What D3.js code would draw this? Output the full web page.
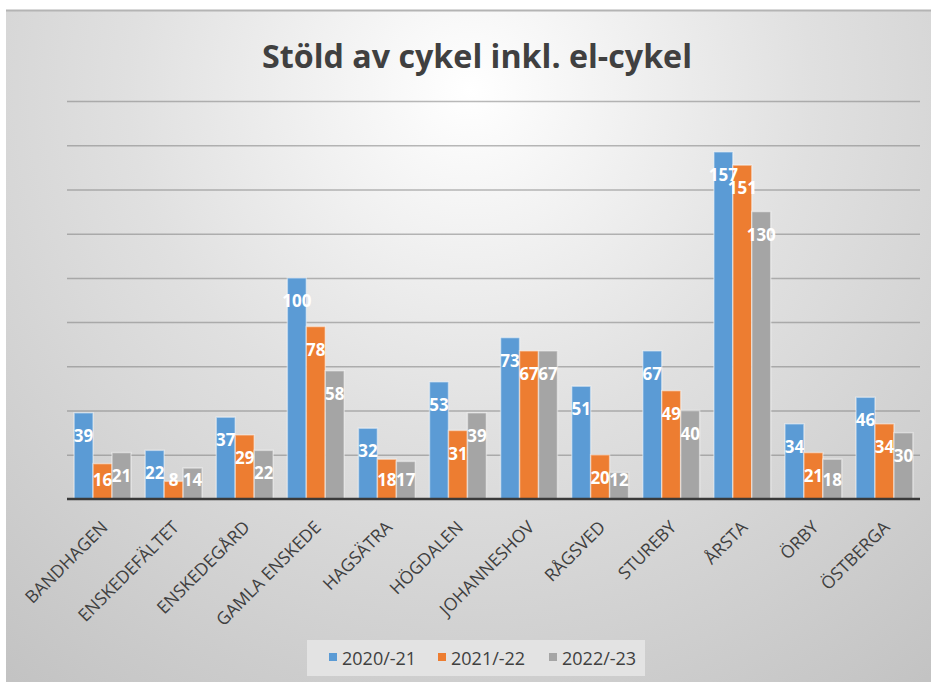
<!DOCTYPE html>
<html lang="sv">
<head>
<meta charset="utf-8">
<title>Stöld av cykel inkl. el-cykel</title>
<script src="https://cdn.jsdelivr.net/npm/d3@7"></script>
<style>
  body { margin: 0; background: #fff; }
  svg text { font-family: "Open Sans", "DejaVu Sans", sans-serif; }
</style>
</head>
<body>
<script>
// data
var categories = ["BANDHAGEN", "ENSKEDEFÄLTET", "ENSKEDEGÅRD", "GAMLA ENSKEDE", "HAGSÄTRA",
                  "HÖGDALEN", "JOHANNESHOV", "RÅGSVED", "STUREBY", "ÅRSTA", "ÖRBY", "ÖSTBERGA"];
var seriesNames = ["2020/-21", "2021/-22", "2022/-23"];
var values2020 = [39, 22, 37, 100, 32, 53, 73, 51, 67, 157, 34, 46];
var values2021 = [16, 8, 29, 78, 18, 31, 67, 20, 49, 151, 21, 34];
var values2022 = [21, 14, 22, 58, 17, 39, 67, 12, 40, 130, 18, 30];
var yTicks = [0, 20, 40, 60, 80, 100, 120, 140, 160, 180];
var colors = ["#5b9bd5", "#ed7d31", "#a5a5a5"];

var w = 931, h = 682;
var margin = {top: 101, right: 11, bottom: 183, left: 67};
var seriesValues = [values2020, values2021, values2022];

var svg = d3.select("body").append("svg")
    .attr("width", w)
    .attr("height", h);

// background gradient
var defs = svg.append("defs");
var grad = defs.append("radialGradient")
    .attr("id", "bg")
    .attr("gradientUnits", "userSpaceOnUse")
    .attr("cx", 470).attr("cy", 90).attr("r", 760);
grad.append("stop").attr("offset", "0%").attr("stop-color", "#ffffff");
grad.append("stop").attr("offset", "45%").attr("stop-color", "#e0e0e0");
grad.append("stop").attr("offset", "100%").attr("stop-color", "#c2c2c2");

svg.append("rect")
    .attr("x", 6).attr("y", 10)
    .attr("width", w - 6).attr("height", h - 10)
    .attr("fill", "url(#bg)");
svg.append("line")
    .attr("x1", 6).attr("x2", w)
    .attr("y1", 10.5).attr("y2", 10.5)
    .attr("stroke", "#b4b4b4").attr("stroke-width", 2);

var x0 = d3.scaleBand()
    .domain(categories)
    .range([margin.left, w - margin.right]);

var x1 = d3.scaleBand()
    .domain(seriesNames)
    .range([x0.bandwidth() * 0.1, x0.bandwidth() * 0.9]);

var y = d3.scaleLinear()
    .domain([0, 180])
    .range([h - margin.bottom, margin.top]);

// gridlines
var grid = d3.axisLeft(y)
    .tickValues(yTicks.slice(1))
    .tickSize(-(w - margin.right - margin.left))
    .tickFormat("");
svg.append("g")
    .attr("transform", "translate(" + margin.left + ",0)")
    .call(grid)
    .call(function(g) { g.select(".domain").remove(); })
    .selectAll("line")
    .attr("stroke", "#808080")
    .attr("stroke-opacity", 0.55)
    .attr("stroke-width", 1.5);

// bars
var groups = svg.selectAll("g.cat")
    .data(categories)
    .enter()
    .append("g")
    .attr("class", "cat")
    .attr("transform", function(d) { return "translate(" + x0(d) + ",0)"; });

groups.selectAll("rect")
    .data(function(d, i) {
        return seriesNames.map(function(s, j) {
            return {series: s, value: seriesValues[j][i], color: colors[j]};
        });
    })
    .enter()
    .append("rect")
    .attr("x", function(d) { return x1(d.series); })
    .attr("y", function(d) { return y(d.value); })
    .attr("width", x1.bandwidth())
    .attr("height", function(d) { return y(0) - y(d.value); })
    .attr("fill", function(d) { return d.color; })
    .attr("stroke", "#ffffff")
    .attr("stroke-opacity", 0.45)
    .attr("stroke-width", 1.5);

// baseline
svg.append("line")
    .attr("x1", margin.left).attr("x2", w - margin.right)
    .attr("y1", y(0)).attr("y2", y(0))
    .attr("stroke", "#3a3a3a")
    .attr("stroke-width", 2.5);

// value labels (they overlap on ÅRSTA, as in the original)
groups.selectAll("text.val")
    .data(function(d, i) {
        return seriesNames.map(function(s, j) {
            return {series: s, value: seriesValues[j][i]};
        });
    })
    .enter()
    .append("text")
    .attr("class", "val")
    .attr("x", function(d) { return x1(d.series) + x1.bandwidth() / 2; })
    .attr("y", function(d) { return Math.min(y(d.value) + 23, y(0) - 19); })
    .attr("dy", "0.36em")
    .attr("text-anchor", "middle")
    .attr("fill", "#ffffff")
    .attr("font-size", "17px")
    .attr("font-weight", "bold")
    .text(function(d) { return d.value; });

// category labels
svg.selectAll("text.cat")
    .data(categories)
    .enter()
    .append("text")
    .attr("class", "cat")
    .attr("transform", function(d) {
        return "translate(" + (x0(d) + x0.bandwidth() / 2 + 2) + "," + 524 + ") rotate(-45)";
    })
    .attr("dy", "0.35em")
    .attr("text-anchor", "end")
    .attr("fill", "#404040")
    .attr("font-size", "17.5px")
    .text(function(d) { return d; });

// title
svg.append("text")
    .attr("x", 477)
    .attr("y", 68)
    .attr("text-anchor", "middle")
    .attr("fill", "#404040")
    .attr("font-size", "32px")
    .attr("font-weight", "bold")
    .attr("textLength", 430)
    .attr("lengthAdjust", "spacingAndGlyphs")
    .text("Stöld av cykel inkl. el-cykel");

// legend
var legendX = [329, 438, 549];
svg.append("rect")
    .attr("x", 307).attr("y", 640)
    .attr("width", 338).attr("height", 36)
    .attr("fill", "#e6e6e6")
    .attr("fill-opacity", 0.85);

var legend = svg.selectAll("g.legend")
    .data(seriesNames)
    .enter()
    .append("g")
    .attr("class", "legend")
    .attr("transform", function(d, i) { return "translate(" + legendX[i] + ",0)"; });

legend.append("rect")
    .attr("x", 0).attr("y", 653)
    .attr("width", 8).attr("height", 8)
    .attr("fill", function(d, i) { return colors[i]; });

legend.append("text")
    .attr("x", 13).attr("y", 665)
    .attr("fill", "#404040")
    .attr("font-size", "18px")
    .text(function(d) { return d; });
</script>
</body>
</html>
